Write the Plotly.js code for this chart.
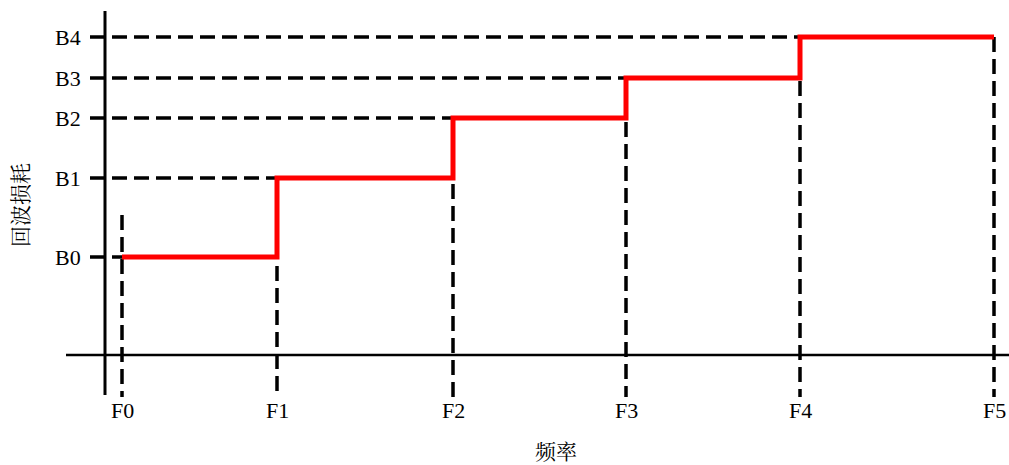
<!DOCTYPE html>
<html>
<head>
<meta charset="utf-8">
<script src="https://cdn.plot.ly/plotly-3.0.1.min.js"></script>
<style>html,body{margin:0;padding:0;background:#fff;}</style>
</head>
<body>
<div id="chart" style="width:1009px;height:465px;"></div>
<script>
// frequency points (arbitrary units from the y-axis line)
var freqLabels = ['F0','F1','F2','F3','F4','F5'];
var freqs = [0.17, 1.72, 3.48, 5.21, 6.95, 8.89];
// return-loss levels (arbitrary units above the x-axis line)
var lossLabels = ['B0','B1','B2','B3','B4'];
var losses = [0.98, 1.77, 2.37, 2.77, 3.18];
// the step: level Bi holds from Fi to F(i+1)
var stepY = losses.concat([losses[losses.length - 1]]);

var serif = '"Liberation Serif", "Times New Roman", serif';
var cjk = '"Noto Serif CJK SC", "Noto Sans CJK SC", serif';
var dash = {color: 'black', width: 3.5, dash: '15px,7px'};

var data = [];

// vertical dashed guides from each level down below the axis
freqs.forEach(function (f, i) {
  var top = i === 0 ? 1.40 : stepY[i];
  data.push({x: [f, f], y: [top, -0.42], mode: 'lines', line: dash, hoverinfo: 'skip'});
});
// horizontal dashed guides from the left to where each level begins
losses.forEach(function (b, i) {
  data.push({x: [-0.15, freqs[i]], y: [b, b], mode: 'lines', line: dash, hoverinfo: 'skip'});
});
// axes
data.push({x: [0, 0], y: [3.44, -0.40], mode: 'lines', line: {color: 'black', width: 3}, hoverinfo: 'skip'});
data.push({x: [-0.39, 9.1], y: [0, 0], mode: 'lines', line: {color: 'black', width: 2.5}, hoverinfo: 'skip'});
// the red step curve
data.push({x: freqs, y: stepY, mode: 'lines', line: {color: '#ff0000', width: 5, shape: 'hv'}});

var annotations = [];
freqLabels.forEach(function (t, i) {
  annotations.push({x: freqs[i], y: -0.55, xref: 'x', yref: 'y', text: t, showarrow: false,
    yanchor: 'middle', font: {family: serif, size: 22, color: 'black'}});
});
lossLabels.forEach(function (t, i) {
  annotations.push({x: -0.22, y: losses[i], xref: 'x', yref: 'y', text: t, showarrow: false,
    xanchor: 'right', yanchor: 'middle', font: {family: serif, size: 22, color: 'black'}});
});
annotations.push({x: 556 / 1009, y: 1 - 450 / 465, xref: 'paper', yref: 'paper', text: '频率',
  xanchor: 'center', yanchor: 'middle', showarrow: false, font: {family: cjk, size: 21, color: 'black'}});
annotations.push({x: 19 / 1009, y: 1 - 205 / 465, xref: 'paper', yref: 'paper', text: '回波损耗',
  xanchor: 'center', yanchor: 'middle', textangle: -90, showarrow: false,
  font: {family: cjk, size: 21, color: 'black'}});

var layout = {
  width: 1009,
  height: 465,
  margin: {l: 0, r: 0, t: 0, b: 0},
  showlegend: false,
  paper_bgcolor: 'white',
  plot_bgcolor: 'white',
  xaxis: {range: [-1.05, 9.04], visible: false, fixedrange: true},
  yaxis: {range: [-1.10, 3.55], visible: false, fixedrange: true},
  annotations: annotations
};
Plotly.newPlot('chart', data, layout, {displayModeBar: false, staticPlot: true});
</script>
</body>
</html>
